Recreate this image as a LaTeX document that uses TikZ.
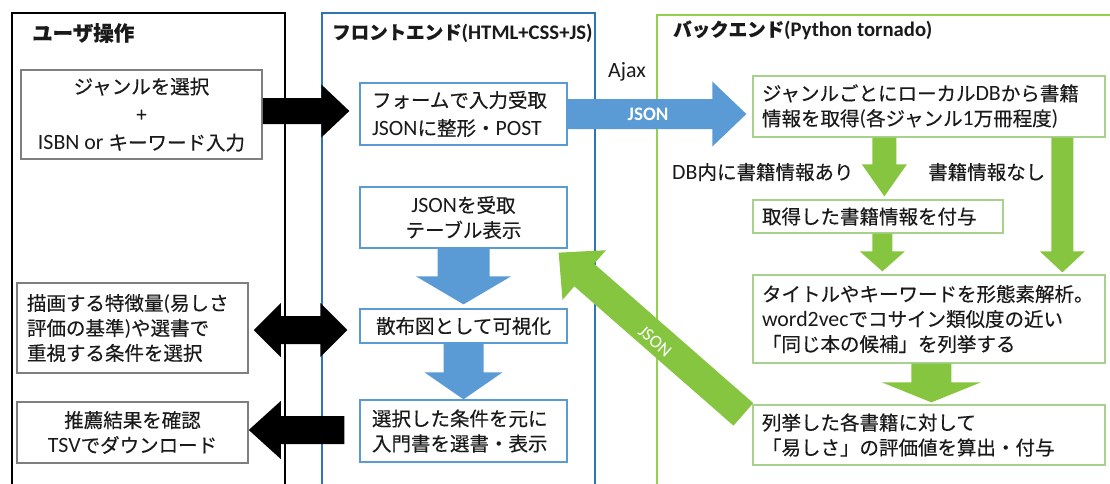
\documentclass[tikz,border=0pt]{standalone}
\usepackage{fontspec}
\setmainfont{Noto Sans CJK JP}[FakeBold=0.3]
\newfontfamily\engf{Carlito}[Scale=1.12]
\newcommand\eng[1]{{\engf #1}}
\usetikzlibrary{calc}
\definecolor{txtc}{HTML}{1A1A1A}
\definecolor{blueframe}{HTML}{2E75B6}
\definecolor{bluearrow}{HTML}{5B9BD5}
\definecolor{blueb}{HTML}{5B9BD5}
\definecolor{greenframe}{HTML}{92D050}
\definecolor{greenarrow}{HTML}{86C540}
\definecolor{greenb}{HTML}{A9D18E}
\definecolor{grayb}{HTML}{7F7F7F}
% fat arrow: #1 style, #2 from, #3 to, #4 shaft width, #5 head width, #6 head length
\newcommand\fatarr[6]{%
  \fill[#1] let \p1=(#2), \p2=(#3), \n1={atan2(\y2-\y1,\x2-\x1)}, \n2={veclen(\x2-\x1,\y2-\y1)} in
  {[shift={(\p1)}, rotate=\n1] (0,#4/2) -- (\n2-#6,#4/2) -- (\n2-#6,#5/2) -- (\n2,0) -- (\n2-#6,-#5/2) -- (\n2-#6,-#4/2) -- (0,-#4/2) -- cycle};
}
\newcommand\fatdarr[6]{%
  \fill[#1] let \p1=(#2), \p2=(#3), \n1={atan2(\y2-\y1,\x2-\x1)}, \n2={veclen(\x2-\x1,\y2-\y1)} in
  {[shift={(\p1)}, rotate=\n1] (0,0) -- (#6,#5/2) -- (#6,#4/2) -- (\n2-#6,#4/2) -- (\n2-#6,#5/2) -- (\n2,0) -- (\n2-#6,-#5/2) -- (\n2-#6,-#4/2) -- (#6,-#4/2) -- (#6,-#5/2) -- cycle};
}
\tikzset{
  txt/.style={font=\fontsize{19.5}{25}\selectfont, text=txtc, inner sep=0pt},
  ubox/.style={txt, draw=grayb, line width=1.5pt, fill=white},
  fbox/.style={txt, draw=blueb, line width=1.3pt, fill=white},
  bbox/.style={txt, draw=greenb, line width=1.3pt, fill=white},
  sz/.style 2 args={minimum width=#1pt, minimum height=#2pt},
  hdr/.style={font=\fontsize{18.5}{22}\selectfont\bfseries, text=txtc, anchor=west, inner sep=0pt},
  frame/.style={line width=2.4pt},
}
\begin{document}
\begin{tikzpicture}[x=1pt,y=-1pt]
\clip (0,0) rectangle (1110,483);
\fill[white] (0,0) rectangle (1110,483);
% frames
\draw[frame, black] (12,13) rectangle (285,500);
\draw[frame, blueframe] (322,13) rectangle (595,500);
\draw[frame, greenframe] (657,15) rectangle (1130,500);
\node[hdr, font=\fontsize{20.5}{22}\selectfont\bfseries] (hu) at (32,33) {ユーザ操作};
\node[hdr] (hf) at (332,33) {フロントエンド\eng{(HTML+CSS+JS)}};
\node[hdr] (hb) at (673,30) {バックエンド\eng{(Python tornado)}};
% nodes
\node[ubox, sz={241}{89}, align=center, font=\fontsize{19.5}{28}\selectfont] (u1) at (141.5,114.5) {ジャンルを選択\\+\\\eng{ISBN or }キーワード入力};
\node[ubox, sz={231}{90}, align=left, text width=211pt] (u2) at (132.5,328) {描画する特徴量\eng{(}易しさ\\評価の基準\eng{)}や選書で\\重視する条件を選択};
\node[ubox, sz={231}{61}, align=center] (u3) at (132.5,432.5) {推薦結果を確認\\\eng{TSV}でダウンロード};
\node[fbox, sz={207}{62}, align=left, text width=183pt, font=\fontsize{19.5}{28}\selectfont] (f1) at (463.5,114) {フォームで入力受取\\\eng{JSON}に整形・\eng{POST}};
\node[fbox, sz={207}{61}, align=center] (f2) at (463.5,217.5) {\eng{JSON}を受取\\テーブル表示};
\node[fbox, sz={207}{34}, align=center] (f3) at (463.5,326) {散布図として可視化};
\node[fbox, sz={207}{62}, align=left, text width=183pt] (f4) at (463.5,431) {選択した条件を元に\\入門書を選書・表示};
\node[bbox, sz={352}{61}, align=left, text width=334pt] (b1) at (929,106.5) {ジャンルごとにローカル\eng{DB}から書籍\\情報を取得\eng{(}各ジャンル\eng{1}万冊程度\eng{)}};
\node[bbox, sz={250}{33}, align=left, text width=232pt] (b2) at (878,216.5) {取得した書籍情報を付与};
\node[bbox, sz={352}{88}, align=left, text width=334pt] (b3) at (929,319) {タイトルやキーワードを形態素解析。\\\eng{word2vec}でコサイン類似度の近い\\「同じ本の候補」を列挙する};
\node[bbox, sz={352}{60}, align=left, text width=334pt] (b4) at (929,435) {列挙した各書籍に対して\\「易しさ」の評価値を算出・付与};
\node[txt, anchor=west] (lab1) at (672,172) {\eng{DB}内に書籍情報あり};
\node[txt, anchor=west] (lab2) at (928,172) {書籍情報なし};
\node[txt] (ajax) at (627,72) {\eng{Ajax}};
% connector end points
\coordinate (a1s) at ($(u1.east)+(0,-3.5)$);
\coordinate (a1e) at ($(a1s -| f1.west)+(-10,0)$);
\coordinate (a2s) at ($(u2.east)+(5,2)$);
\coordinate (a2e) at ($(a2s -| f3.west)+(-12,0)$);
\coordinate (a3s) at ($(f4.west)+(-15,-1)$);
\coordinate (a3e) at ($(a3s -| u3.east)+(0,0)$);
\coordinate (j1e) at ($(f1.east -| b1.west)+(-6,0)$);
\coordinate (d1e) at ($(f3.north)+(0,-4)$);
\coordinate (g1s) at ($(b1.south west)+(132,0)$);
\coordinate (g1e) at ($(g1s |- b2.north)+(0,-3)$);
\coordinate (g2s) at ($(b1.south west)+(310,0)$);
\coordinate (g2e) at ($(g2s |- b3.north)+(0,-2)$);
\coordinate (g3s) at ($(b2.south west)+(130,0)$);
\coordinate (g3e) at ($(g3s |- b3.north)+(0,-3)$);
\coordinate (g4s) at ($(b3.south west)+(179,0)$);
\coordinate (g4e) at ($(g4s |- b4.north)+(0,-2)$);
\coordinate (jds) at ($(b4.north west)+(-9,10)$);
\coordinate (jde) at ($(f2.south east)+(-9,4)$);
% arrows
\fatarr{black}{a1s}{a1e}{26}{53}{28}
\fatdarr{black}{a2s}{a2e}{28}{54}{27}
\fatarr{black}{a3s}{a3e}{28}{58}{32}
\fatarr{bluearrow}{f1.east}{j1e}{30}{65}{34}
\fatarr{bluearrow}{f2.south}{d1e}{52}{95}{28}
\fatarr{bluearrow}{f3.south}{f4.north}{40}{78}{27}
\fatarr{greenarrow}{g1s}{g1e}{24}{45}{32}
\fatarr{greenarrow}{g2s}{g2e}{22}{45}{21}
\fatarr{greenarrow}{g3s}{g3e}{20}{45}{20}
\fatarr{greenarrow}{g4s}{g4e}{40}{99}{20}
\fatarr{greenarrow}{jds}{jde}{30}{66}{34}
% arrow labels
\node[font={\engf\bfseries\fontsize{17}{17}\selectfont}, text=white, inner sep=0pt] (jl1) at ($(f1.east)!0.45!(j1e)$) {JSON};
\node[font={\engf\fontsize{16}{16}\selectfont}, text=white, inner sep=0pt, rotate=-41] (jl2) at (655,341) {JSON};
\end{tikzpicture}
\end{document}
